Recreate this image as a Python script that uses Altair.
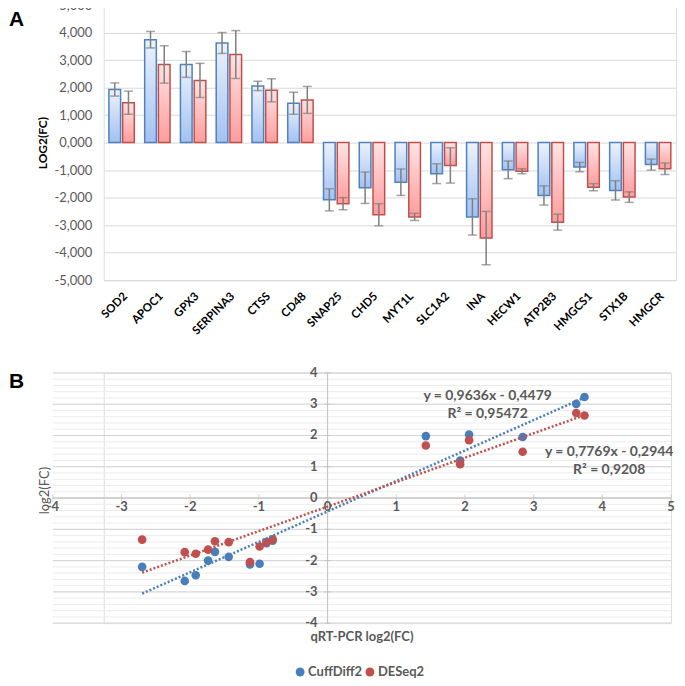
import altair as alt
import pandas as pd

FONT = "Lato"

# ---------------- Panel A data ----------------
genes = ["SOD2", "APOC1", "GPX3", "SERPINA3", "CTSS", "CD48", "SNAP25", "CHD5",
         "MYT1L", "SLC1A2", "INA", "HECW1", "ATP2B3", "HMGCS1", "STX1B", "HMGCR"]
bar_blue = [1.93, 3.74, 2.84, 3.62, 2.06, 1.43, -2.08, -1.64,
            -1.44, -1.13, -2.70, -0.99, -1.92, -0.89, -1.74, -0.80]
bar_blue_err = [0.24, 0.30, 0.47, 0.38, 0.17, 0.40, 0.40, 0.57,
                0.48, 0.36, 0.66, 0.32, 0.35, 0.17, 0.35, 0.20]
bar_red = [1.45, 2.84, 2.26, 3.20, 1.90, 1.55, -2.22, -2.62,
           -2.70, -0.83, -3.47, -1.04, -2.89, -1.62, -1.98, -0.95]
bar_red_err = [0.42, 0.68, 0.62, 0.87, 0.42, 0.49, 0.22, 0.40,
               0.13, 0.64, 0.97, 0.09, 0.29, 0.13, 0.19, 0.21]
a_ticks = [-5, -4, -3, -2, -1, 0, 1, 2, 3, 4, 5]

# ---------------- Panel B data ----------------
qpcr_x = [1.93, 3.74, 2.84, 3.62, 2.06, 1.43, -2.08, -1.64,
          -1.44, -1.13, -2.70, -0.99, -1.92, -0.89, -1.74, -0.80]
cuffdiff_y = [1.20, 3.23, 1.95, 3.01, 2.03, 1.98, -2.65, -1.72,
              -1.88, -2.12, -2.20, -2.10, -2.47, -1.44, -2.00, -1.36]
deseq_y = [1.08, 2.64, 1.48, 2.72, 1.85, 1.68, -1.73, -1.38,
           -1.41, -2.05, -1.33, -1.55, -1.78, -1.41, -1.65, -1.32]
methods = ["CuffDiff2", "DESeq2"]
method_colors = ["#4a7ebb", "#c0504d"]
eq_texts = ["y = 0,9636x - 0,4479", "R² = 0,95472", "y = 0,7769x - 0,2944", "R² = 0,9208"]
eq_x = [2.33, 2.33, 4.10, 4.10]
eq_y = [3.27, 2.69, 1.46, 0.91]
b_xticks = [-4, -3, -2, -1, 0, 1, 2, 3, 4, 5]
b_yticks = [-4, -3, -2, -1, 0, 1, 2, 3, 4]
b_minor_grid = [round(-4 + 0.2 * i, 6) for i in range(41)]

# ---------------- Panel A ----------------
rows = []
for g, v, e in zip(genes, bar_blue, bar_blue_err):
    rows.append(dict(gene=g, series="s1", value=v, lo=v - e, hi=v + e))
for g, v, e in zip(genes, bar_red, bar_red_err):
    rows.append(dict(gene=g, series="s2", value=v, lo=v - e, hi=v + e))
bars_df = pd.DataFrame(rows)

W1, H1 = 574, 276

x_axisA = alt.Axis(title=None, labelAngle=-45, labelFontWeight="bold",
                   labelFontSize=11.5, labelColor="#000000", labelFont=FONT,
                   domain=False, ticks=False, labelPadding=10, grid=False,
                   labelAlign="right", labelBaseline="top", labelOverlap=False)
y_axisA = alt.Axis(title="LOG2(FC)", values=a_ticks,
                   labelExpr="(datum.value < 0 ? '-' : '') + replace(format(abs(datum.value), '.3f'), '.', ',')",
                   labelFont=FONT, labelFontSize=13, labelColor="#595959",
                   labelPadding=12, domain=False, ticks=False, labelOverlap=False,
                   gridColor="#d9d9d9", gridWidth=1,
                   titleFont=FONT, titleFontSize=12, titleFontWeight="bold",
                   titleColor="#000000", titlePadding=4)
x_scaleA = alt.Scale(paddingInner=0.29, paddingOuter=0.145)
xo_enc = alt.XOffset("series:N", scale=alt.Scale(domain=["s1", "s2"], paddingInner=0.15))
y_scaleA = alt.Scale(domain=[-5, 5], nice=False)

xA = alt.X("gene:N", sort=genes, scale=x_scaleA, axis=x_axisA)


def yA(field):
    return alt.Y(field, type="quantitative", scale=y_scaleA, stack=None, axis=y_axisA, title="LOG2(FC)")


blue_grad = alt.Gradient(gradient="linear",
                         stops=[alt.GradientStop(offset=0, color="#ecf2fc"),
                                alt.GradientStop(offset=1, color="#a2c1f2")],
                         x1=0, x2=0, y1=0, y2=1)
red_grad = alt.Gradient(gradient="linear",
                        stops=[alt.GradientStop(offset=0, color="#ffe3e3"),
                               alt.GradientStop(offset=1, color="#ff9c9c")],
                        x1=0, x2=0, y1=0, y2=1)

baseA = alt.Chart(bars_df)
blue_bars = baseA.transform_filter("datum.series == 's1'").mark_bar(
    fill=blue_grad, stroke="#4f81bd", strokeWidth=1.5
).encode(x=xA, xOffset=xo_enc, y=yA("value"))
red_bars = baseA.transform_filter("datum.series == 's2'").mark_bar(
    fill=red_grad, stroke="#c0504d", strokeWidth=1.5
).encode(x=xA, xOffset=xo_enc, y=yA("value"))
err_rule = baseA.mark_rule(color="#7f7f7f", strokeWidth=1.5).encode(
    x=xA, xOffset=xo_enc, y=yA("lo"), y2="hi:Q")
cap_lo = baseA.mark_tick(color="#7f7f7f", thickness=1.5, size=9).encode(
    x=xA, xOffset=xo_enc, y=yA("lo"))
cap_hi = baseA.mark_tick(color="#7f7f7f", thickness=1.5, size=9).encode(
    x=xA, xOffset=xo_enc, y=yA("hi"))
letterA = alt.Chart(pd.DataFrame({"t": ["A"]})).mark_text(
    font="Liberation Sans", fontSize=21, fontWeight="bold", align="left",
    baseline="middle", color="#000000"
).encode(text="t:N", x=alt.value(-95), y=alt.value(15.5))

panelA = alt.layer(red_bars, blue_bars, err_rule, cap_lo, cap_hi, letterA).properties(
    width=W1, height=H1)

# ---------------- Panel B ----------------
srows = []
for g, xv, yv in zip(genes, qpcr_x, cuffdiff_y):
    srows.append(dict(gene=g, method="CuffDiff2", x=xv, y=yv))
for g, xv, yv in zip(genes, qpcr_x, deseq_y):
    srows.append(dict(gene=g, method="DESeq2", x=xv, y=yv))
sc_df = pd.DataFrame(srows)

# panel B plot spans page x 52..672 while panel A starts at 103: shift via range
XL, XR = -51, 569
W2, H2 = XR, 251
xs = alt.Scale(domain=[-4, 5], nice=False, range=[XL, XR])
ys = alt.Scale(domain=[-4, 4], nice=False)


def xB(field):
    return alt.X(field, type="quantitative", scale=xs, axis=None)


def yB(field):
    return alt.Y(field, type="quantitative", scale=ys, axis=None)


cscale = alt.Scale(domain=methods, range=method_colors)
one = pd.DataFrame({"a": [0]})
GREY = "#bfbfbf"
LBL = "#595959"

# horizontal gridlines (minor every 0.2, major at integers)
minor_df = pd.DataFrame({"v": b_minor_grid})
major_df = pd.DataFrame({"v": b_yticks})
grid_minor = alt.Chart(minor_df).mark_rule(color="#ececec", strokeWidth=1).encode(
    y=yB("v"), x=alt.XDatum(-4, scale=xs, axis=None), x2=alt.X2Datum(5))
grid_major = alt.Chart(major_df).mark_rule(color="#d4d4d4", strokeWidth=1).encode(
    y=yB("v"), x=alt.XDatum(-4, scale=xs, axis=None), x2=alt.X2Datum(5))

baseB = alt.Chart(sc_df)
x_line = alt.Chart(one).mark_rule(color=GREY, strokeWidth=1).encode(
    x=alt.XDatum(-4, scale=xs, axis=None), x2=alt.X2Datum(5),
    y=alt.YDatum(0, scale=ys, axis=None))
y_line = alt.Chart(one).mark_rule(color=GREY, strokeWidth=1).encode(
    x=alt.XDatum(0, scale=xs, axis=None),
    y=alt.YDatum(-4, scale=ys, axis=None), y2=alt.Y2Datum(4))
xt_df = pd.DataFrame({"v": b_xticks, "lab": [str(v) for v in b_xticks]})
yt_df = pd.DataFrame({"v": b_yticks, "lab": [str(v) for v in b_yticks]})
x_tickmarks = alt.Chart(xt_df).mark_tick(color=GREY, thickness=1, size=7, orient="vertical").encode(
    x=xB("v"), y=alt.YDatum(0, scale=ys, axis=None))
y_tickmarks = alt.Chart(yt_df).mark_tick(color=GREY, thickness=1, size=7, orient="horizontal").encode(
    x=alt.XDatum(0, scale=xs, axis=None), y=yB("v"))
x_labels = alt.Chart(xt_df).mark_text(font=FONT, fontSize=13, fontWeight="bold", color=LBL,
                                      align="center", baseline="top", dy=3).encode(
    x=xB("v"), y=alt.YDatum(0, scale=ys, axis=None), text="lab:N")
y_labels = alt.Chart(yt_df).mark_text(font=FONT, fontSize=13, fontWeight="bold", color=LBL,
                                      align="right", baseline="middle", dx=-10).encode(
    x=alt.XDatum(0, scale=xs, axis=None), y=yB("v"), text="lab:N")

trend = baseB.transform_regression("x", "y", groupby=["method"]).mark_line(
    strokeDash=[2, 2], strokeWidth=2.5
).encode(x=xB("x"), y=yB("y"), color=alt.Color("method:N", scale=cscale, legend=None))
points = baseB.mark_circle(size=75, opacity=1).encode(
    x=xB("x"), y=yB("y"), color=alt.Color("method:N", scale=cscale, legend=None))
eq_df = pd.DataFrame({"x": eq_x, "y": eq_y, "t": eq_texts})
eqs = alt.Chart(eq_df).mark_text(font=FONT, fontSize=14, fontWeight="bold",
                                 color=LBL, align="center", baseline="middle").encode(
    x=xB("x"), y=yB("y"), text="t:N")

# legend (drawn as marks placed under the plot, as in the reference)
leg_df = pd.DataFrame({"method": methods, "lx": [197, 267]})
leg_dots = alt.Chart(leg_df).mark_circle(size=80, opacity=1).encode(
    x=alt.X("lx:Q", scale=None, axis=None), y=alt.value(300),
    color=alt.Color("method:N", scale=cscale, legend=None))
leg_text = alt.Chart(leg_df).mark_text(font=FONT, fontSize=13, fontWeight="bold",
                                       color=LBL, align="left", baseline="middle",
                                       dx=8).encode(
    x=alt.X("lx:Q", scale=None, axis=None), y=alt.value(300), text="method:N")

letterB = alt.Chart(pd.DataFrame({"t": ["B"]})).mark_text(
    font="Liberation Sans", fontSize=21, fontWeight="bold", align="left",
    baseline="middle", color="#000000"
).encode(text="t:N", x=alt.value(-95), y=alt.value(9))
ytitleB = alt.Chart(pd.DataFrame({"t": ["log2(FC)"]})).mark_text(
    font=FONT, fontSize=13, color=LBL, angle=270, align="center", baseline="middle"
).encode(text="t:N", x=alt.value(-59), y=alt.value(118))
xtitleB = alt.Chart(pd.DataFrame({"t": ["qRT-PCR log2(FC)"]})).mark_text(
    font=FONT, fontSize=13, fontWeight="bold", color=LBL, align="center", baseline="middle"
).encode(text="t:N", x=alt.value(259), y=alt.value(265))

panelB = alt.layer(grid_minor, grid_major, x_line, y_line, points, trend, x_tickmarks, y_tickmarks,
                   x_labels, y_labels, eqs, leg_dots, leg_text, letterB, ytitleB, xtitleB).properties(
    width=W2, height=H2)

chart = alt.vconcat(panelA, panelB, spacing=28).properties(
    padding={"left": 0, "top": -11, "right": 0, "bottom": 0}
).configure_view(stroke="transparent", strokeWidth=0).configure_axis(
    labelOverlap=False).configure(background="white")

chart.save("out.html", embed_options={"renderer": "svg", "actions": False})
